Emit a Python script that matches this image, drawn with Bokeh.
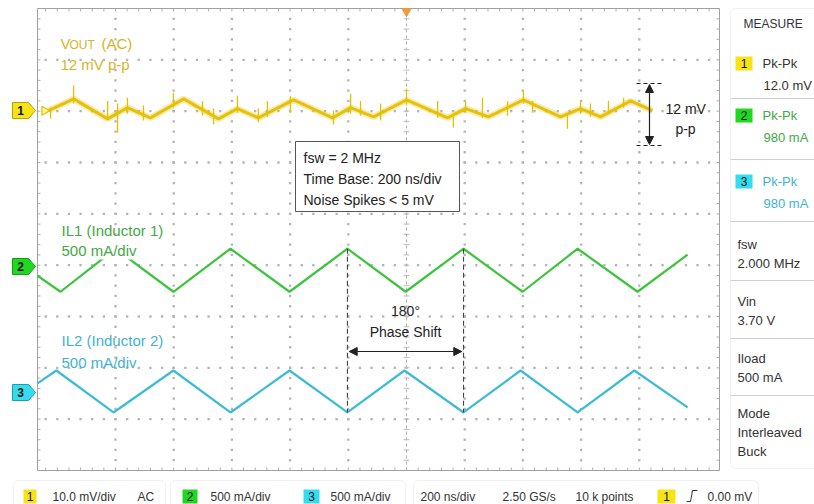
import math
from bokeh.plotting import figure
from bokeh.models import Range1d, BoxAnnotation, Arrow, NormalHead
from bokeh.core.properties import value
from bokeh.embed import file_html
from bokeh.resources import INLINE

# ---------------- data ----------------
TIME_PER_DIV_NS = 200          # 200 ns/div
CH1_MV_PER_DIV = 10.0          # 10.0 mV/div
CH2_MA_PER_DIV = 500.0         # 500 mA/div
CH3_MA_PER_DIV = 500.0         # 500 mA/div
CH1_OFFSET_DIV = 2.51
CH2_OFFSET_DIV = -0.55
CH3_OFFSET_DIV = -2.98

# Vout (AC) ripple, mV
VOUT_T_NS = [-1230, -1144, -1027, -959, -880, -766, -646, -581, -509, -388, -254, -192,
             -113, 0, 141, 203, 282, 402, 529, 598, 667, 770, 845]
VOUT_MV = [0.0, 2.3, -1.6, 0.6, -1.4, 2.3, -1.6, 0.4, -1.4, 2.1, -1.4, 0.6,
           -1.2, 2.1, -1.4, 0.4, -1.2, 2.1, -1.2, 0.4, -1.2, 1.9, 0.0]
# switching noise spikes on Vout
SPIKE_T_NS = [-1223, -1144, -1027, -993, -959, -904, -801, -701, -663, -581,
              -509, -478, -399, -251, -192, -158, -89, 0, 107, 161,
              203, 261, 347, 402, 433, 553, 598, 632, 694, 746]
SPIKE_HI_MV = [0.6, 4.9, 1.9, 1.4, 2.5, 1.0, 3.5, 1.9, 0.4, 2.9,
               0.4, 1.9, 2.9, 0.0, 3.3, 1.9, 1.4, 4.3, 1.9, -1.0,
               1.9, 2.5, 1.9, 3.9, 1.9, -0.6, 1.9, 1.4, 1.9, 2.5]
SPIKE_LO_MV = [-1.6, 1.4, -1.6, -4.3, -0.6, -1.9, 0.6, -1.0, -2.7, -0.4,
               -2.3, -1.2, -0.4, -2.7, -0.6, -1.0, -1.9, 1.0, -1.4, -3.3,
               -0.4, -1.4, -1.0, 1.4, -0.4, -3.5, -0.6, -1.2, -0.6, 0.6]

# Inductor currents (AC part), mA
IL1_T_NS = [-1268, -1189, -1000, -801, -605, -402, -203, -3, 196, 399, 588, 794, 966]
IL1_MA = [-78, -234, 185, -234, 185, -234, 185, -234, 185, -234, 185, -234, 127]
IL2_T_NS = [-1268, -1203, -1007, -801, -605, -402, -203, -7, 196, 392, 588, 783, 966]
IL2_MA = [88, 214, -195, 214, -195, 214, -195, 214, -195, 214, -195, 214, -146]

MEASURE_LABELS = ["Pk-Pk", "Pk-Pk", "Pk-Pk"]
MEASURE_VALUES = ["12.0 mV", "980 mA", "980 mA"]
INFO_LINES = ["fsw = 2 MHz", "Time Base: 200 ns/div", "Noise Spikes < 5 mV"]
PARAM_NAMES = ["fsw", "Vin", "Iload"]
PARAM_VALUES = ["2.000 MHz", "3.70 V", "500 mA"]

# ---------------- styling ----------------
FONT = "Liberation Sans"
YEL = "#E4C000"
YEL_TXT = "#D6B42A"
GRN = "#3CC43C"
GRN_TXT = "#45A845"
CYN = "#3BBCD2"
CYN_TXT = "#3FB2D0"
TXT = "#333333"
GRID = "#b4b4b4"

PX_PER_DIV_X = 58.2
PX_PER_DIV_Y = 51.33
X_CENTER_PX = 406
Y_CENTER_PX = 239


def XP(px):
    return (px - X_CENTER_PX) * TIME_PER_DIV_NS / PX_PER_DIV_X


def YP(py):
    return (Y_CENTER_PX - py) / PX_PER_DIV_Y


W, H = 814, 504
p = figure(width=W, height=H, output_backend="svg", toolbar_location=None,
           x_range=Range1d(XP(0), XP(W)), y_range=Range1d(YP(H), YP(0)),
           x_axis_location=None, y_axis_location=None, min_border=0)
p.outline_line_color = None
p.xgrid.visible = False
p.ygrid.visible = False
p.background_fill_color = "white"

T_LEFT, T_RIGHT = XP(37), XP(719)
Y_TOP, Y_BOT = 4.5, -4.5
MINOR_X = TIME_PER_DIV_NS / 5


def tx(px, py, s, size=13, color=TXT, align="left", weight="normal"):
    p.text(x=[XP(px)], y=[YP(py)], text=[s], text_font=value(FONT),
           text_font_size=f"{size}px", text_color=color, text_align=align,
           text_baseline="middle", text_font_style=weight)


# ---------------- panels (underlay) ----------------
for (l, r, t, b) in [(730, 830, 8, 468), (13, 165, 480, 515), (170, 405, 480, 515), (413, 758, 480, 515)]:
    p.add_layout(BoxAnnotation(left=XP(l), right=XP(r), top=YP(t), bottom=YP(b),
                               fill_alpha=0, line_color="#d0d0d0", line_width=1,
                               border_radius=5, level="underlay"))

# ---------------- graticule ----------------
gx, gy = [], []
grid_t = [k * TIME_PER_DIV_NS for k in range(-5, 5)]
grid_y = [k + 0.5 for k in range(-4, 4)]
minor_t = []
t = -1240.0
while t <= 1060:
    minor_t.append(t)
    t += MINOR_X
minor_y = [round(-4.3 + 0.2 * k, 3) for k in range(44)]
for yv in grid_y:
    for tv in minor_t:
        gx.append(tv)
        gy.append(yv)
for tv in grid_t:
    if tv == 0:
        continue
    for yv in minor_y:
        gx.append(tv)
        gy.append(yv)
p.scatter(gx, gy, marker="square", size=2.3, color=GRID, line_color=None)

# center vertical line with ticks
p.line([0, 0], [Y_BOT, Y_TOP], line_color="#b0b0b0", line_dash="3 3", line_width=1)
p.segment(x0=[-10] * len(minor_y), x1=[10] * len(minor_y), y0=minor_y, y1=minor_y,
          line_color="#bcbcbc", line_width=1)

# border ticks
tick_y = 3 / PX_PER_DIV_Y
tick_x = 3 * TIME_PER_DIV_NS / PX_PER_DIV_X
p.segment(x0=minor_t, x1=minor_t, y0=[Y_TOP] * len(minor_t), y1=[Y_TOP - tick_y] * len(minor_t),
          line_color="#b0b0b0")
p.segment(x0=minor_t, x1=minor_t, y0=[Y_BOT] * len(minor_t), y1=[Y_BOT + tick_y] * len(minor_t),
          line_color="#b0b0b0")
p.segment(x0=[T_LEFT] * len(minor_y), x1=[T_LEFT + tick_x] * len(minor_y), y0=minor_y, y1=minor_y,
          line_color="#b0b0b0")
p.segment(x0=[T_RIGHT] * len(minor_y), x1=[T_RIGHT - tick_x] * len(minor_y), y0=minor_y, y1=minor_y,
          line_color="#b0b0b0")

# plot border
p.quad(left=[T_LEFT], right=[T_RIGHT], top=[Y_TOP], bottom=[Y_BOT],
       fill_alpha=0, line_color="#a0a0a0", line_width=1)

# ---------------- traces ----------------
v_y = [CH1_OFFSET_DIV + v / CH1_MV_PER_DIV for v in VOUT_MV]
p.line(VOUT_T_NS, v_y, line_color=YEL, line_width=6.5, line_alpha=0.3)
p.line(VOUT_T_NS, v_y, line_color=YEL, line_width=3, line_alpha=0.95)
p.segment(x0=SPIKE_T_NS, x1=SPIKE_T_NS,
          y0=[CH1_OFFSET_DIV + v / CH1_MV_PER_DIV for v in SPIKE_LO_MV],
          y1=[CH1_OFFSET_DIV + v / CH1_MV_PER_DIV for v in SPIKE_HI_MV],
          line_color=YEL, line_width=1.3)

i1_y = [CH2_OFFSET_DIV + v / CH2_MA_PER_DIV for v in IL1_MA]
p.line(IL1_T_NS, i1_y, line_color=GRN, line_width=2.2)
i2_y = [CH3_OFFSET_DIV + v / CH3_MA_PER_DIV for v in IL2_MA]
p.line(IL2_T_NS, i2_y, line_color=CYN, line_width=2.2)

# ---------------- channel markers ----------------
for cy, fill, line, lab in [(110, "#F6E417", "#B9A200", "1"), (266, "#1FD81F", "#14A014", "2"),
                            (392, "#35DCEE", "#1E9FB0", "3")]:
    xs = [XP(v) for v in (12, 28, 35, 28, 12)]
    ys = [YP(v) for v in (cy - 8, cy - 8, cy, cy + 8, cy + 8)]
    p.patch(xs, ys, fill_color=fill, line_color=line, line_width=1)
    tx(20, cy, lab, size=12, color="#111111", align="center", weight="bold")
p.scatter([XP(44)], [CH1_OFFSET_DIV], marker="triangle", angle=-math.pi / 2, size=9,
          fill_color="#FFF6A0", line_color=YEL, line_width=1.2)
p.scatter([0], [YP(11)], marker="inverted_triangle", size=9, fill_color="#F29B38",
          line_color="#F29B38")

# ---------------- trace labels ----------------
tx(60, 43, "V", size=15, color=YEL_TXT)
tx(69, 44, "OUT", size=12, color=YEL_TXT)
tx(101, 43, "(AC)", size=15, color=YEL_TXT)
tx(60, 64, "12 mV p-p", size=15, color=YEL_TXT)

tx(61, 230, "IL1 (Inductor 1)", size=15, color=GRN_TXT)
p.quad(left=[XP(58)], right=[XP(140)], top=[YP(241)], bottom=[YP(259)],
       fill_color="white", line_color=None)
tx(61, 250, "500 mA/div", size=15, color=GRN_TXT)
tx(61, 340, "IL2 (Inductor 2)", size=15, color=CYN_TXT)
tx(61, 362, "500 mA/div", size=15, color=CYN_TXT)

# ---------------- info box ----------------
p.quad(left=[XP(295)], right=[XP(459)], top=[YP(141)], bottom=[YP(211)],
       fill_color="white", line_color="#555555", line_width=1)
for i, s in enumerate(INFO_LINES):
    tx(303, 157 + 21 * i, s, size=14, color="#222222")

# ---------------- 12 mV p-p marker ----------------
p.segment(x0=[XP(636), XP(636)], x1=[XP(664), XP(664)], y0=[YP(83), YP(145)], y1=[YP(83), YP(145)],
          line_color="#222222", line_dash="4 3", line_width=1.2)
p.add_layout(Arrow(x_start=XP(649), y_start=YP(84), x_end=XP(649), y_end=YP(144),
                   start=NormalHead(size=8, fill_color="#222", line_color="#222"),
                   end=NormalHead(size=8, fill_color="#222", line_color="#222"),
                   line_color="#222", line_width=1.2))
tx(665, 108, "12 mV", size=14, color="#222222")
tx(685, 128, "p-p", size=14, color="#222222", align="center")

# ---------------- phase shift marker ----------------
pk_a, pk_b = IL1_T_NS[6], IL1_T_NS[8]
p.segment(x0=[pk_a, pk_b], x1=[pk_a, pk_b], y0=[i1_y[6], i1_y[8]], y1=[i2_y[6], i2_y[8]],
          line_color="#444444", line_dash="5 3", line_width=1.1)
p.add_layout(Arrow(x_start=pk_a + 6, y_start=YP(351), x_end=pk_b - 6, y_end=YP(351),
                   start=NormalHead(size=8, fill_color="#222", line_color="#222"),
                   end=NormalHead(size=8, fill_color="#222", line_color="#222"),
                   line_color="#222", line_width=1.2))
tx(405, 310, "180°", size=14, color="#222222", align="center")
tx(405, 331, "Phase Shift", size=14, color="#222222", align="center")

# ---------------- measure panel ----------------
tx(743, 23, "MEASURE", size=12, color=TXT)
for i, (cy, fill, col) in enumerate([(63, "#F6E417", TXT), (115, "#1FD81F", GRN_TXT), (181, "#35DCEE", CYN_TXT)]):
    p.quad(left=[XP(735)], right=[XP(752)], top=[YP(cy - 7)], bottom=[YP(cy + 7)],
           fill_color=fill, line_color=None)
    tx(743.5, cy, str(i + 1), size=12, color="#111111", align="center")
    tx(762, cy, MEASURE_LABELS[i], size=13, color=col)
    tx(763, cy + 22, MEASURE_VALUES[i], size=13, color=col)
for yd in [98, 159, 221, 280, 338, 395]:
    p.segment(x0=[XP(730)], x1=[XP(814)], y0=[YP(yd)], y1=[YP(yd)], line_color="#d0d0d0")
for i, (n, v) in enumerate(zip(PARAM_NAMES, PARAM_VALUES)):
    tx(737, 244 + 57 * i, n, size=13, color=TXT)
    tx(737, 263 + 57 * i, v, size=13, color=TXT)
tx(737, 413, "Mode", size=13, color=TXT)
tx(737, 432, "Interleaved", size=13, color=TXT)
tx(737, 451, "Buck", size=13, color=TXT)

# ---------------- bottom status bar ----------------
for (l, r, fill, lab) in [(23, 36, "#F6E417", "1"), (182, 197, "#1FD81F", "2"),
                          (303, 319, "#35DCEE", "3"), (657, 675, "#F6E417", "1")]:
    p.quad(left=[XP(l)], right=[XP(r)], top=[YP(489)], bottom=[YP(503)],
           fill_color=fill, line_color=None)
    tx((l + r) / 2, 496, lab, size=12, color="#111111", align="center")
tx(52, 496, "10.0 mV/div", size=12)
tx(137, 496, "AC", size=12)
tx(210, 496, "500 mA/div", size=12)
tx(330, 496, "500 mA/div", size=12)
tx(420, 496, "200 ns/div", size=12)
tx(502, 496, "2.50 GS/s", size=12)
tx(575, 496, "10 k points", size=12)
tx(707, 496, "0.00 mV", size=12)
p.line([XP(v) for v in (686, 690, 692, 697)], [YP(v) for v in (501, 501, 490, 490)],
       line_color="#333333", line_width=1)

open("out.html", "w").write(file_html(p, INLINE))
